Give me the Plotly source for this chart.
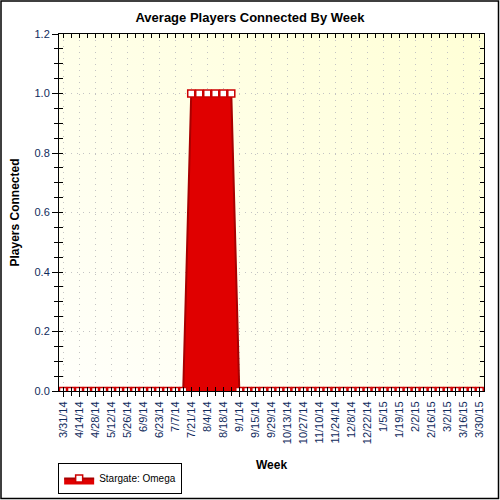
import base64
import pandas as pd
import plotly.graph_objects as go

weeks = [d.strftime("%Y-%m-%d") for d in pd.date_range("2014-03-31", "2015-03-30", freq="7D")]
players = [0, 0, 0, 0, 0, 0, 0, 0, 0, 0, 0, 0, 0, 0, 0, 0,
           1, 1, 1, 1, 1, 1,
           0, 0, 0, 0, 0, 0, 0, 0, 0, 0, 0, 0, 0, 0, 0, 0,
           0, 0, 0, 0, 0, 0, 0, 0, 0, 0, 0, 0, 0, 0, 0]
series_name = "Stargate: Omega"
y_ticks = [0.0, 0.2, 0.4, 0.6, 0.8, 1.0, 1.2]

FONT = "Liberation Sans, Arial, sans-serif"
TICKCOL = "#0f2a5c"
L, R, T, B = 59, 16, 34, 109
W = H = 500
pw, ph = W - L - R, H - T - B

svg = ('<svg xmlns="http://www.w3.org/2000/svg" width="100" height="100" preserveAspectRatio="none">'
       '<defs><linearGradient id="g" x1="0" y1="1" x2="1" y2="0">'
       '<stop offset="0" stop-color="#fffffb"/><stop offset="1" stop-color="#ffffd6"/>'
       '</linearGradient></defs><rect width="100" height="100" fill="url(#g)"/></svg>')
bg_src = "data:image/svg+xml;base64," + base64.b64encode(svg.encode()).decode()

fig = go.Figure()
fig.add_trace(go.Scatter(
    x=weeks, y=players, name=series_name, mode="lines+markers",
    fill="tozeroy", fillcolor="#e00000",
    line=dict(color="#a80000", width=2),
    marker=dict(symbol="square", size=7, color="white", line=dict(color="#cc0000", width=1.5)),
))
# helper trace for mirrored inside ticks
fig.add_trace(go.Scatter(x=weeks, y=players, xaxis="x2", yaxis="y2", mode="lines",
                         line=dict(width=0), opacity=0, showlegend=False, hoverinfo="skip"))

xr = [pd.Timestamp(weeks[0]) - pd.Timedelta(hours=84), pd.Timestamp(weeks[-1]) + pd.Timedelta(hours=90)]
DAY = 86400000
GRID = dict(showgrid=True, gridcolor="#c4c4c4", griddash="1px,5px", gridwidth=1)

fig.update_layout(
    width=W, height=H,
    margin=dict(l=L, r=R, t=T, b=B, autoexpand=False),
    paper_bgcolor="white", plot_bgcolor="white",
    font=dict(family=FONT, size=11, color="black"),
    title=dict(text="Average Players Connected By Week", x=0.5, xref="container",
               y=1 - 17 / H, yref="container", yanchor="middle",
               font=dict(family=FONT, size=13, color="black", weight="bold")),
    showlegend=True,
    legend=dict(x=-0.002, xanchor="left", yref="container", y=1 - 494 / H, yanchor="bottom",
                bordercolor="black", borderwidth=1, bgcolor="white",
                font=dict(family=FONT, size=10, color="black"),
                itemwidth=30, tracegroupgap=0),
    xaxis=dict(type="date", range=xr, tick0=weeks[0], dtick=14 * DAY, tickformat="%-m/%-d/%y",
               tickangle=-90, tickfont=dict(family=FONT, size=11, color=TICKCOL),
               ticks="outside", ticklen=5, tickcolor="black", tickwidth=1,
               minor=dict(dtick=7 * DAY, tick0=weeks[0], ticks="outside", ticklen=4,
                          tickcolor="black", showgrid=False),
               showline=True, linecolor="black", linewidth=1,
               zeroline=False, automargin=False, **GRID),
    yaxis=dict(range=[0, 1.2], tickvals=y_ticks, tickformat=".1f",
               tickfont=dict(family=FONT, size=11, color=TICKCOL),
               ticks="outside", ticklen=6, tickcolor="black",
               minor=dict(dtick=0.05, ticks="outside", ticklen=4, tickcolor="black", showgrid=False),
               showline=True, linecolor="black", linewidth=1,
               zeroline=False, automargin=False, **GRID,
               title=dict(text="Players Connected", standoff=12,
                          font=dict(family=FONT, size=12, color="black", weight="bold"))),
    xaxis2=dict(type="date", overlaying="x", matches="x", side="bottom", anchor="y2",
                tick0=weeks[0], dtick=7 * DAY, ticks="inside", ticklen=4, tickcolor="black",
                mirror="ticks", showline=True, linecolor="black", showticklabels=False,
                showgrid=False, zeroline=False, automargin=False),
    yaxis2=dict(overlaying="y", matches="y", side="left", anchor="x2",
                tickvals=[i * 0.05 for i in range(25)], ticks="inside", ticklen=4, tickcolor="black",
                mirror="ticks", showline=True, linecolor="black", showticklabels=False,
                showgrid=False, zeroline=False, automargin=False),
    annotations=[dict(text="Week", xref="paper", x=0.5, yref="paper", y=(ph + T - 465) / ph,
                      yanchor="middle", showarrow=False,
                      font=dict(family=FONT, size=12, color="black", weight="bold"))],
    images=[dict(source=bg_src, xref="paper", yref="paper", x=0, y=1, sizex=1, sizey=1,
                 xanchor="left", yanchor="top", sizing="stretch", layer="below")],
    shapes=[dict(type="rect", xref="paper", yref="paper",
                 x0=(1 - L) / pw, x1=(W - 1.5 - L) / pw,
                 y0=(ph + T - (H - 1.5)) / ph, y1=(ph + T - 1) / ph,
                 line=dict(color="black", width=1.5), fillcolor="rgba(0,0,0,0)", layer="above")],
)

fig.write_html("out.html", config={"displayModeBar": False},
               post_script="document.body.style.margin='0px';document.body.style.overflow='hidden';")
